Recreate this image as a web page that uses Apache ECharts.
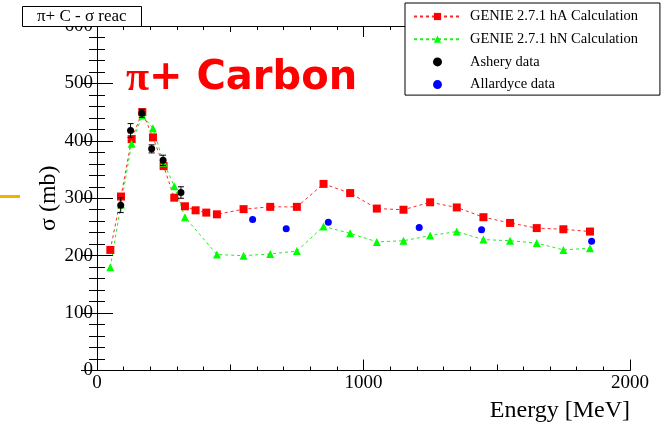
<!DOCTYPE html>
<html>
<head>
<meta charset="utf-8">
<script src="https://cdn.jsdelivr.net/npm/echarts@6/dist/echarts.min.js"></script>
<style>html,body{margin:0;padding:0;background:#fff;}#c{width:663px;height:425px;}</style>
</head>
<body>
<div id="c"></div>
<script>
// GENIE hA calculation
const hA_E = [50, 90, 130, 170, 210, 250, 290, 330, 370, 410, 450, 550, 650, 750, 850, 950, 1050, 1150, 1250, 1350, 1450, 1550, 1650, 1750, 1850];
const hA_sigma = [210, 303, 403, 450, 406, 356, 301, 286, 279, 275, 272, 281, 285, 285, 325, 309, 282, 280, 293, 284, 267, 257, 248, 246, 242];
// GENIE hN calculation
const hN_E = [50, 90, 130, 170, 210, 250, 290, 330, 450, 550, 650, 750, 850, 950, 1050, 1150, 1250, 1350, 1450, 1550, 1650, 1750, 1850];
const hN_sigma = [180, 289, 395, 444, 422, 362, 321, 267, 202, 200, 203, 208, 251, 239, 224, 226, 235, 242, 228, 226, 222, 210, 213];
// Ashery data
const ash_E = [89, 126, 168, 205, 248, 315];
const ash_sigma = [288, 418, 448, 386, 366, 310];
const ash_err = [13, 12, 7, 7, 9, 10];
// Allardyce data
const all_E = [584, 710, 868, 1209, 1443, 1856];
const all_sigma = [263, 247, 258, 249, 245, 225];
const all_err = [5, 5, 5, 5, 5, 5];
// axis ticks
const xTicks = [0, 1000, 2000];
const yTicks = [0, 100, 200, 300, 400, 500, 600];

const names = ['GENIE 2.7.1 hA Calculation', 'GENIE 2.7.1 hN Calculation', 'Ashery data', 'Allardyce data'];
const pairs = (xs, ys) => xs.map((x, i) => [x, ys[i]]);
const errData = (xs, ys, es) => xs.map((x, i) => [x, ys[i] - es[i], ys[i] + es[i]]);

const serif = 'Liberation Serif';
const chart = echarts.init(document.getElementById('c'), null, {renderer: 'canvas'});

function errRender(color, cap) {
  return function (params, api) {
    const lo = api.coord([api.value(0), api.value(1)]);
    const hi = api.coord([api.value(0), api.value(2)]);
    const st = {stroke: color, lineWidth: 1};
    const ch = [{type: 'line', shape: {x1: lo[0], y1: lo[1], x2: hi[0], y2: hi[1]}, style: st}];
    if (cap > 0) {
      ch.push({type: 'line', shape: {x1: lo[0] - cap, y1: lo[1], x2: lo[0] + cap, y2: lo[1]}, style: st});
      ch.push({type: 'line', shape: {x1: hi[0] - cap, y1: hi[1], x2: hi[0] + cap, y2: hi[1]}, style: st});
    }
    return {type: 'group', children: ch};
  };
}

const xMin = xTicks[0], xMax = xTicks[xTicks.length - 1];
const yMin = yTicks[0], yMax = yTicks[yTicks.length - 1];
const axLine = {show: true, lineStyle: {color: '#000', width: 1}};
const plain = v => String(v);

const option = {
  animation: false,
  backgroundColor: '#fff',
  title: [
    {
      text: 'π+ C - σ reac', left: 22, top: 6, padding: [2, 15, 2, 15],
      borderColor: '#000', borderWidth: 1, backgroundColor: '#fff', z: 20,
      textStyle: {fontFamily: serif, fontSize: 17, fontWeight: 'normal', color: '#000'}
    },
    {
      text: '{p|π}{s|+ Carbon}', left: 121, top: 53, z: 20,
      textStyle: {
        rich: {
          p: {fontFamily: serif, fontSize: 42, color: '#ff0000'},
          s: {fontFamily: 'DejaVu Sans', fontWeight: 'bold', fontSize: 40, color: '#ff0000'}
        }
      }
    }
  ],
  legend: {
    orient: 'vertical', left: 405, top: 3, padding: [6, 22, 3, 8],
    itemWidth: 47, itemHeight: 9, itemGap: 7.7,
    borderColor: '#000', borderWidth: 1, backgroundColor: '#fff', borderRadius: 0,
    textStyle: {fontFamily: serif, fontSize: 14.5, color: '#000', padding: [0, 0, 0, 4], lineHeight: 14},
    data: names, selectedMode: false, z: 20
  },
  grid: {left: 97, right: 33, top: 26, bottom: 54.5, containLabel: false},
  xAxis: [
    {
      type: 'value', position: 'bottom', min: xMin, max: xMax, interval: 1000,
      axisLine: axLine, splitLine: {show: false},
      axisTick: {show: true, inside: true, length: 11, lineStyle: {color: '#000'}},
      minorTick: {show: true, splitNumber: 10, length: 4, lineStyle: {color: '#000'}},
      axisLabel: {fontFamily: serif, fontSize: 19, color: '#000', margin: 3, formatter: plain},
      name: 'Energy [MeV]', nameLocation: 'end', nameGap: 0, nameMoveOverlap: false,
      nameTextStyle: {fontFamily: serif, fontSize: 24, color: '#000', align: 'right', verticalAlign: 'top', padding: [28, 0, 0, 0]}
    },
    {
      type: 'value', position: 'bottom', min: xMin, max: xMax, interval: 500,
      axisLine: {show: false}, splitLine: {show: false}, axisLabel: {show: false},
      axisTick: {show: true, inside: true, length: 6, lineStyle: {color: '#000'}}
    },
    {
      type: 'value', position: 'top', min: xMin, max: xMax, interval: 1000,
      axisLine: axLine, splitLine: {show: false}, axisLabel: {show: false},
      axisTick: {show: true, inside: true, length: 11, lineStyle: {color: '#000'}},
      minorTick: {show: true, splitNumber: 10, length: 4, lineStyle: {color: '#000'}}
    },
    {
      type: 'value', position: 'top', min: xMin, max: xMax, interval: 500,
      axisLine: {show: false}, splitLine: {show: false}, axisLabel: {show: false},
      axisTick: {show: true, inside: true, length: 6, lineStyle: {color: '#000'}}
    }
  ],
  yAxis: [
    {
      type: 'value', position: 'left', min: yMin, max: yMax, interval: 100,
      axisLine: axLine, splitLine: {show: false},
      axisTick: {show: true, inside: true, length: 16, lineStyle: {color: '#000'}},
      minorTick: {show: true, splitNumber: 5, length: 8, lineStyle: {color: '#000'}},
      axisLabel: {fontFamily: serif, fontSize: 19, color: '#000', margin: 4, formatter: plain},
      name: 'σ (mb)', nameLocation: 'middle', nameRotate: 90, nameGap: 36, nameMoveOverlap: false,
      nameTextStyle: {fontFamily: serif, fontSize: 24, color: '#000'}
    },
    {
      type: 'value', position: 'right', min: yMin, max: yMax, interval: 100,
      axisLine: axLine, splitLine: {show: false}, axisLabel: {show: false},
      axisTick: {show: true, inside: true, length: 16, lineStyle: {color: '#000'}},
      minorTick: {show: true, splitNumber: 5, length: 8, lineStyle: {color: '#000'}}
    }
  ],
  graphic: [
    {type: 'rect', left: 0, top: 195, shape: {width: 20, height: 3}, style: {fill: '#f4b100'}}
  ],
  series: [
    {
      name: names[0], type: 'line', data: pairs(hA_E, hA_sigma), z: 3,
      symbol: 'rect', symbolSize: 8, itemStyle: {color: '#ff0000', opacity: 1},
      lineStyle: {color: 'rgba(255,0,0,0.85)', width: 1, type: [3, 3]}
    },
    {
      name: names[1], type: 'line', data: pairs(hN_E, hN_sigma), z: 3,
      symbol: 'triangle', symbolSize: 8, itemStyle: {color: '#00ff00', opacity: 1},
      lineStyle: {color: 'rgba(0,230,0,0.85)', width: 1, type: [3, 3]}
    },
    {
      type: 'custom', data: errData(ash_E, ash_sigma, ash_err), z: 4,
      renderItem: errRender('#000', 3), silent: true, encode: {x: 0, y: [1, 2]}
    },
    {
      name: names[2], type: 'scatter', data: pairs(ash_E, ash_sigma), z: 5,
      symbol: 'circle', symbolSize: 7, itemStyle: {color: '#000', opacity: 1}
    },
    {
      type: 'custom', data: errData(all_E, all_sigma, all_err), z: 4,
      renderItem: errRender('#0000ff', 0), silent: true, encode: {x: 0, y: [1, 2]}
    },
    {
      name: names[3], type: 'scatter', data: pairs(all_E, all_sigma), z: 5,
      symbol: 'circle', symbolSize: 7, itemStyle: {color: '#0000ff', opacity: 1}
    }
  ]
};
chart.setOption(option);
</script>
</body>
</html>
